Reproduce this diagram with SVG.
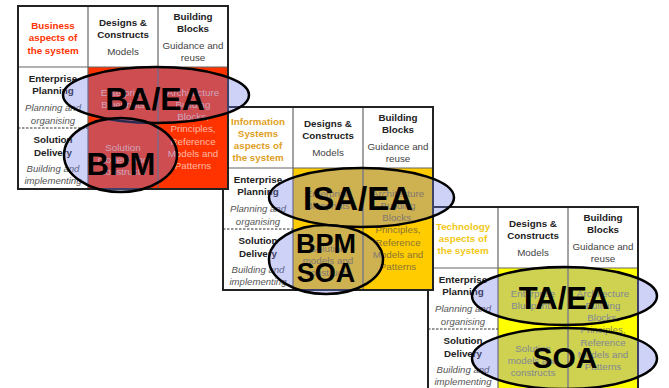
<svg xmlns="http://www.w3.org/2000/svg" width="669" height="388" viewBox="0 0 669 388">
<style>
text{font-family:"Liberation Sans",Arial,Helvetica,sans-serif;text-anchor:middle}
.cell{fill:#fff}
.grid{stroke:#666;stroke-width:1.2;fill:none}
.frame{stroke:#222;stroke-width:2;fill:none}
.dash{stroke:#333;stroke-width:1.2;stroke-dasharray:2.5 1.5}
.hb{font-size:9.8px;font-weight:bold;fill:#222}
.hr{font-size:9.8px;fill:#444}
.it{font-size:9.6px;font-style:italic;fill:#555}
.b1{font-size:9.8px;fill:#ffb8a8}
.b2{font-size:9.8px;fill:#8a7636}
.b3{font-size:9.8px;fill:#8c8c6a}
.oval{fill:#737de6;fill-opacity:0.35;stroke:#000;stroke-width:2.5}
.big{font-weight:bold;fill:#000}
</style>

<!-- Technology table -->
<g id="table-technology" transform="translate(428,207)">
  <rect class="cell" x="0" y="0" width="210" height="183"/>
  <rect x="70" y="61" width="140" height="122" fill="#ffff00"/>
  <line class="grid" x1="70" y1="0" x2="70" y2="183"/>
  <line class="grid" x1="140" y1="0" x2="140" y2="183"/>
  <line class="grid" x1="0" y1="61" x2="210" y2="61"/>
  <line class="dash" x1="0" y1="122" x2="70" y2="122"/>
  <rect class="frame" x="0" y="0" width="210" height="183"/>
  <text class="hb" fill="#f5cc10" style="fill:#f2c814" x="35" y="22.5">Technology</text>
  <text class="hb" style="fill:#f2c814" x="35" y="34.5">aspects of</text>
  <text class="hb" style="fill:#f2c814" x="35" y="46.5">the system</text>
  <text class="hb" x="105" y="19.5">Designs &amp;</text>
  <text class="hb" x="105" y="31.5">Constructs</text>
  <text class="hr" x="105" y="48.5">Models</text>
  <text class="hb" x="175" y="14">Building</text>
  <text class="hb" x="175" y="25.5">Blocks</text>
  <text class="hr" x="175" y="42.5">Guidance and</text>
  <text class="hr" x="175" y="54.5">reuse</text>
  <text class="hb" x="35" y="75.5">Enterprise</text>
  <text class="hb" x="35" y="87.5">Planning</text>
  <text class="it" x="35" y="104.5">Planning and</text>
  <text class="it" x="35" y="117.5">organising</text>
  <text class="hb" x="35" y="136.5">Solution</text>
  <text class="hb" x="35" y="149.5">Delivery</text>
  <text class="it" x="35" y="165.5">Building and</text>
  <text class="it" x="35" y="177.5">implementing</text>
  <text class="b3" x="105" y="89.5">Enterprise</text>
  <text class="b3" x="105" y="101.5">Blueprints</text>
  <text class="b3" x="105" y="144.5">Solution</text>
  <text class="b3" x="105" y="156.5">models and</text>
  <text class="b3" x="105" y="168.5">constructs</text>
  <text class="b3" x="175" y="89.5">Architecture</text>
  <text class="b3" x="175" y="101.8">Building</text>
  <text class="b3" x="175" y="114.1">Blocks,</text>
  <text class="b3" x="175" y="126.4">Principles,</text>
  <text class="b3" x="175" y="138.7">Reference</text>
  <text class="b3" x="175" y="151">Models and</text>
  <text class="b3" x="175" y="163.3">Patterns</text>
</g>
<g id="oval-ta-ea">
  <ellipse class="oval" cx="564.5" cy="296" rx="92.5" ry="29"/>
  <text class="big" x="564" y="309" font-size="31">TA/EA</text>
</g>
<g id="oval-soa-tech">
  <ellipse class="oval" cx="564.5" cy="358.5" rx="92.5" ry="30.5"/>
  <text class="big" x="565" y="368" font-size="30">SOA</text>
</g>

<!-- Information Systems table -->
<g id="table-information-systems" transform="translate(223,107)">
  <rect class="cell" x="0" y="0" width="210" height="183"/>
  <rect x="70" y="61" width="140" height="122" fill="#ffcc00"/>
  <line class="grid" x1="70" y1="0" x2="70" y2="183"/>
  <line class="grid" x1="140" y1="0" x2="140" y2="183"/>
  <line class="grid" x1="0" y1="61" x2="210" y2="61"/>
  <line class="dash" x1="0" y1="122" x2="70" y2="122"/>
  <rect class="frame" x="0" y="0" width="210" height="183"/>
  <text class="hb" style="fill:#e0a024" x="35" y="17.5">Information</text>
  <text class="hb" style="fill:#e0a024" x="35" y="29.5">Systems</text>
  <text class="hb" style="fill:#e0a024" x="35" y="41.5">aspects of</text>
  <text class="hb" style="fill:#e0a024" x="35" y="53.5">the system</text>
  <text class="hb" x="105" y="19.5">Designs &amp;</text>
  <text class="hb" x="105" y="31.5">Constructs</text>
  <text class="hr" x="105" y="48.5">Models</text>
  <text class="hb" x="175" y="14">Building</text>
  <text class="hb" x="175" y="25.5">Blocks</text>
  <text class="hr" x="175" y="42.5">Guidance and</text>
  <text class="hr" x="175" y="54.5">reuse</text>
  <text class="hb" x="35" y="75.5">Enterprise</text>
  <text class="hb" x="35" y="87.5">Planning</text>
  <text class="it" x="35" y="104.5">Planning and</text>
  <text class="it" x="35" y="117.5">organising</text>
  <text class="hb" x="35" y="136.5">Solution</text>
  <text class="hb" x="35" y="149.5">Delivery</text>
  <text class="it" x="35" y="165.5">Building and</text>
  <text class="it" x="35" y="177.5">implementing</text>
  <text class="b2" x="105" y="89.5">Enterprise</text>
  <text class="b2" x="105" y="101.5">Blueprints</text>
  <text class="b2" x="105" y="144.5">Solution</text>
  <text class="b2" x="105" y="156.5">models and</text>
  <text class="b2" x="105" y="168.5">constructs</text>
  <text class="b2" x="175" y="89.5">Architecture</text>
  <text class="b2" x="175" y="101.8">Building</text>
  <text class="b2" x="175" y="114.1">Blocks,</text>
  <text class="b2" x="175" y="126.4">Principles,</text>
  <text class="b2" x="175" y="138.7">Reference</text>
  <text class="b2" x="175" y="151">Models and</text>
  <text class="b2" x="175" y="163.3">Patterns</text>
</g>
<g id="oval-isa-ea">
  <ellipse class="oval" cx="361.5" cy="197.5" rx="92.5" ry="29.5"/>
  <text class="big" x="358" y="210" font-size="33">ISA/EA</text>
</g>
<g id="oval-bpm-soa">
  <ellipse class="oval" cx="326" cy="259.5" rx="57" ry="34.5"/>
  <text class="big" x="326" y="253" font-size="27">BPM</text>
  <text class="big" x="326" y="282" font-size="27">SOA</text>
</g>

<!-- Business table -->
<g id="table-business" transform="translate(18,6)">
  <rect class="cell" x="0" y="0" width="210" height="183"/>
  <rect x="70" y="61" width="140" height="122" fill="#ff3300"/>
  <line class="grid" x1="70" y1="0" x2="70" y2="183"/>
  <line class="grid" x1="140" y1="0" x2="140" y2="183"/>
  <line class="grid" x1="0" y1="61" x2="210" y2="61"/>
  <line class="dash" x1="0" y1="122" x2="70" y2="122"/>
  <rect class="frame" x="0" y="0" width="210" height="183"/>
  <text class="hb" style="fill:#ff3300" x="35" y="22.5">Business</text>
  <text class="hb" style="fill:#ff3300" x="35" y="35">aspects of</text>
  <text class="hb" style="fill:#ff3300" x="35" y="47.5">the system</text>
  <text class="hb" x="105" y="19.5">Designs &amp;</text>
  <text class="hb" x="105" y="31.5">Constructs</text>
  <text class="hr" x="105" y="48.5">Models</text>
  <text class="hb" x="175" y="14">Building</text>
  <text class="hb" x="175" y="25.5">Blocks</text>
  <text class="hr" x="175" y="42.5">Guidance and</text>
  <text class="hr" x="175" y="54.5">reuse</text>
  <text class="hb" x="35" y="75.5">Enterprise</text>
  <text class="hb" x="35" y="87.5">Planning</text>
  <text class="it" x="35" y="104.5">Planning and</text>
  <text class="it" x="35" y="117.5">organising</text>
  <text class="hb" x="35" y="136.5">Solution</text>
  <text class="hb" x="35" y="149.5">Delivery</text>
  <text class="it" x="35" y="165.5">Building and</text>
  <text class="it" x="35" y="177.5">implementing</text>
  <text class="b1" x="105" y="89.5">Enterprise</text>
  <text class="b1" x="105" y="101.5">Blueprints</text>
  <text class="b1" x="105" y="144.5">Solution</text>
  <text class="b1" x="105" y="156.5">models and</text>
  <text class="b1" x="105" y="168.5">constructs</text>
  <text class="b1" x="175" y="89.5">Architecture</text>
  <text class="b1" x="175" y="101.8">Building</text>
  <text class="b1" x="175" y="114.1">Blocks,</text>
  <text class="b1" x="175" y="126.4">Principles,</text>
  <text class="b1" x="175" y="138.7">Reference</text>
  <text class="b1" x="175" y="151">Models and</text>
  <text class="b1" x="175" y="163.3">Patterns</text>
</g>
<g id="oval-ba-ea">
  <ellipse class="oval" cx="156" cy="95" rx="93" ry="28"/>
  <text class="big" x="155" y="110" font-size="32">BA/EA</text>
</g>
<g id="oval-bpm">
  <ellipse class="oval" cx="120.5" cy="155" rx="56.5" ry="37"/>
  <text class="big" x="121" y="175" font-size="31">BPM</text>
</g>
</svg>
